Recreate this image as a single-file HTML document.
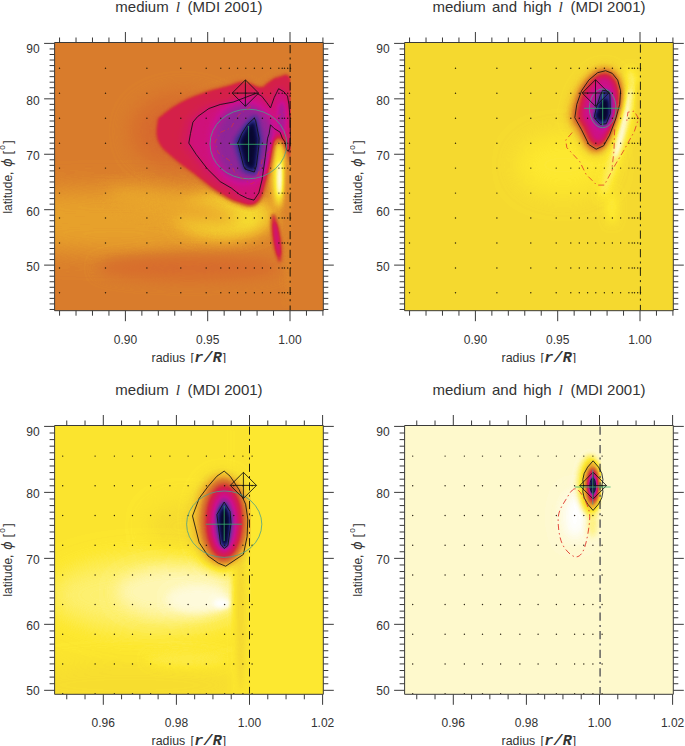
<!DOCTYPE html>
<html><head><meta charset="utf-8"><title>fig</title>
<style>
html,body{margin:0;padding:0;background:#fff}
body{width:685px;height:746px;position:relative;overflow:hidden;font-family:"Liberation Sans",sans-serif}
.p{position:absolute;width:335px;height:362.6px;overflow:hidden}
.p svg{position:absolute;left:0;top:0;display:block}
text{font-family:"Liberation Sans",sans-serif;fill:#333}
.tl{font-size:12px}
.al{font-size:12px}
.tt{font-size:15px}
.it{font-family:"Liberation Serif",serif;font-style:italic;font-size:15.5px}
.mo{font-family:"Liberation Mono",monospace;font-weight:bold;font-style:italic;font-size:15px;letter-spacing:.3px}
.ph{font-style:italic;font-size:15px}
.dg{font-size:8.2px}
</style></head><body>
<svg width="0" height="0" style="position:absolute"><defs><filter id="cm" x="0" y="0" width="100%" height="100%" color-interpolation-filters="sRGB"><feComponentTransfer><feFuncR type="table" tableValues="1.0000 0.9993 0.9987 0.9980 0.9974 0.9967 0.9961 0.9961 0.9961 0.9961 0.9961 0.9961 0.9961 0.9953 0.9945 0.9937 0.9929 0.9922 0.9830 0.9739 0.9647 0.9591 0.9535 0.9479 0.9423 0.9367 0.9311 0.9255 0.9154 0.9053 0.8952 0.8852 0.8751 0.8650 0.8549 0.8523 0.8497 0.8471 0.8444 0.8418 0.8392 0.8384 0.8376 0.8369 0.8361 0.8353 0.8353 0.8353 0.8353 0.8333 0.8314 0.8294 0.8275 0.8245 0.8216 0.8186 0.8157 0.8118 0.8078 0.8039 0.8000 0.7735 0.7471 0.7206 0.6941 0.6676 0.6412 0.6147 0.5882 0.5588 0.5294 0.5000 0.4706 0.4412 0.4118 0.3824 0.3529 0.3294 0.3059 0.2824 0.2588 0.2353 0.2118 0.1882 0.1647 0.1520 0.1392 0.1265 0.1137 0.1010 0.0882 0.0755 0.0627 0.0574 0.0520 0.0466 0.0412 0.0358 0.0304 0.0250 0.0196"/><feFuncG type="table" tableValues="1.0000 0.9961 0.9922 0.9882 0.9843 0.9804 0.9765 0.9712 0.9660 0.9608 0.9556 0.9503 0.9451 0.9380 0.9310 0.9239 0.9169 0.9098 0.8915 0.8732 0.8549 0.8291 0.8034 0.7776 0.7518 0.7261 0.7003 0.6745 0.6482 0.6218 0.5955 0.5692 0.5429 0.5165 0.4902 0.4712 0.4523 0.4333 0.4144 0.3954 0.3765 0.3467 0.3169 0.2871 0.2573 0.2275 0.1961 0.1647 0.1333 0.1255 0.1176 0.1098 0.1020 0.0941 0.0863 0.0784 0.0706 0.0686 0.0667 0.0647 0.0627 0.0725 0.0824 0.0922 0.1020 0.1118 0.1216 0.1314 0.1412 0.1461 0.1510 0.1559 0.1608 0.1657 0.1706 0.1755 0.1804 0.1784 0.1765 0.1745 0.1725 0.1706 0.1686 0.1667 0.1647 0.1520 0.1392 0.1265 0.1137 0.1010 0.0882 0.0755 0.0627 0.0574 0.0520 0.0466 0.0412 0.0358 0.0304 0.0250 0.0196"/><feFuncB type="table" tableValues="1.0000 0.9667 0.9333 0.9000 0.8667 0.8333 0.8000 0.7451 0.6902 0.6353 0.5804 0.5255 0.4706 0.4125 0.3545 0.2965 0.2384 0.1804 0.1830 0.1856 0.1882 0.1860 0.1838 0.1815 0.1793 0.1770 0.1748 0.1725 0.1725 0.1725 0.1725 0.1725 0.1725 0.1725 0.1725 0.1739 0.1752 0.1765 0.1778 0.1791 0.1804 0.1882 0.1961 0.2039 0.2118 0.2196 0.2379 0.2562 0.2745 0.2961 0.3176 0.3392 0.3608 0.3882 0.4157 0.4431 0.4706 0.4951 0.5196 0.5441 0.5686 0.5721 0.5755 0.5789 0.5824 0.5858 0.5892 0.5926 0.5961 0.5961 0.5961 0.5961 0.5961 0.5961 0.5961 0.5961 0.5961 0.5863 0.5765 0.5667 0.5569 0.5471 0.5373 0.5275 0.5176 0.4922 0.4667 0.4412 0.4157 0.3902 0.3647 0.3392 0.3137 0.2931 0.2725 0.2520 0.2314 0.2108 0.1902 0.1696 0.1490"/></feComponentTransfer></filter><filter id="b2" x="-100%" y="-100%" width="300%" height="300%" color-interpolation-filters="sRGB"><feGaussianBlur stdDeviation="1.0"/></filter><filter id="b3" x="-100%" y="-100%" width="300%" height="300%" color-interpolation-filters="sRGB"><feGaussianBlur stdDeviation="1.5"/></filter><filter id="b4" x="-100%" y="-100%" width="300%" height="300%" color-interpolation-filters="sRGB"><feGaussianBlur stdDeviation="2.0"/></filter><filter id="b5" x="-100%" y="-100%" width="300%" height="300%" color-interpolation-filters="sRGB"><feGaussianBlur stdDeviation="2.5"/></filter><filter id="b6" x="-100%" y="-100%" width="300%" height="300%" color-interpolation-filters="sRGB"><feGaussianBlur stdDeviation="3.0"/></filter><filter id="b7" x="-100%" y="-100%" width="300%" height="300%" color-interpolation-filters="sRGB"><feGaussianBlur stdDeviation="3.5"/></filter><filter id="b8" x="-100%" y="-100%" width="300%" height="300%" color-interpolation-filters="sRGB"><feGaussianBlur stdDeviation="4.0"/></filter><filter id="b10" x="-100%" y="-100%" width="300%" height="300%" color-interpolation-filters="sRGB"><feGaussianBlur stdDeviation="5.0"/></filter><filter id="b12" x="-100%" y="-100%" width="300%" height="300%" color-interpolation-filters="sRGB"><feGaussianBlur stdDeviation="6.0"/></filter><filter id="b14" x="-100%" y="-100%" width="300%" height="300%" color-interpolation-filters="sRGB"><feGaussianBlur stdDeviation="7.0"/></filter><filter id="b16" x="-100%" y="-100%" width="300%" height="300%" color-interpolation-filters="sRGB"><feGaussianBlur stdDeviation="8.0"/></filter><filter id="b18" x="-100%" y="-100%" width="300%" height="300%" color-interpolation-filters="sRGB"><feGaussianBlur stdDeviation="9.0"/></filter><filter id="b20" x="-100%" y="-100%" width="300%" height="300%" color-interpolation-filters="sRGB"><feGaussianBlur stdDeviation="10.0"/></filter><filter id="b22" x="-100%" y="-100%" width="300%" height="300%" color-interpolation-filters="sRGB"><feGaussianBlur stdDeviation="11.0"/></filter><filter id="b24" x="-100%" y="-100%" width="300%" height="300%" color-interpolation-filters="sRGB"><feGaussianBlur stdDeviation="12.0"/></filter><filter id="b26" x="-100%" y="-100%" width="300%" height="300%" color-interpolation-filters="sRGB"><feGaussianBlur stdDeviation="13.0"/></filter><clipPath id="cp"><rect x="54.6" y="42.5" width="268.7" height="268.2"/></clipPath><clipPath id="cpb"><rect x="54.6" y="42.5" width="268.7" height="268.8"/></clipPath></defs></svg>
<div class="p" style="left:0px;top:0px"><svg width="335" height="363" viewBox="0 0 335 363">
<g clip-path="url(#cp)"><g filter="url(#cm)">
<rect x="52.6" y="40.5" width="272.7" height="274.2" fill="rgb(87,87,87)"/>
<ellipse cx="183.1" cy="131.7" rx="51.2" ry="37.4" fill="rgb(97,97,97)" filter="url(#b20)"/>
<ellipse cx="114.1" cy="220.4" rx="165.5" ry="31.5" fill="rgb(73,73,73)" filter="url(#b24)"/>
<ellipse cx="224.5" cy="215.6" rx="49.3" ry="22.9" fill="rgb(56,56,56)" filter="url(#b14)"/>
<ellipse cx="228.4" cy="219.2" rx="29.6" ry="10.2" fill="rgb(50,50,50)" filter="url(#b8)"/>
<ellipse cx="173.2" cy="206.6" rx="67.0" ry="11.8" fill="rgb(71,71,71)" filter="url(#b16)" transform="rotate(12 173.2 206.6)"/>
<ellipse cx="189.0" cy="267.7" rx="90.7" ry="11.8" fill="rgb(96,96,96)" filter="url(#b14)"/>
<path d="M157.5 121.8C156.7 127.1 155.1 134.3 158.3 141.5C161.4 148.8 165.5 151.2 173.2 158.1C181.0 165.0 187.4 169.1 196.9 176.2C206.4 183.3 212.7 188.5 220.5 193.6C228.4 198.6 229.2 199.5 236.3 201.5C243.4 203.4 250.0 207.5 256.0 203.4C262.0 199.3 263.3 191.4 266.3 181.0C269.3 170.6 269.1 159.9 271.0 151.4C272.9 142.9 273.2 139.4 275.7 138.4C278.3 137.4 280.6 141.7 283.6 146.3C286.6 150.8 289.1 166.1 290.7 161.2C292.3 156.4 291.5 138.2 291.5 121.8C291.5 105.4 293.5 88.3 290.7 79.3C288.0 70.3 282.3 76.3 277.7 76.9C273.1 77.5 271.4 80.4 267.8 82.4C264.3 84.5 264.7 87.3 260.0 87.1C255.2 87.0 250.5 81.9 244.2 81.6C237.9 81.3 236.3 83.4 228.4 85.6C220.5 87.7 214.2 89.0 204.8 92.3C195.3 95.6 189.6 97.6 181.1 102.1C172.6 106.7 166.9 111.2 162.2 115.1C157.5 119.1 158.3 116.6 157.5 121.8Z" fill="rgb(102,102,102)" filter="url(#b6)"/>
<path d="M157.5 121.8C156.7 127.1 155.1 134.3 158.3 141.5C161.4 148.8 165.5 151.2 173.2 158.1C181.0 165.0 187.4 169.1 196.9 176.2C206.4 183.3 212.7 188.5 220.5 193.6C228.4 198.6 229.2 199.5 236.3 201.5C243.4 203.4 250.0 207.5 256.0 203.4C262.0 199.3 263.3 191.4 266.3 181.0C269.3 170.6 269.1 159.9 271.0 151.4C272.9 142.9 273.2 139.4 275.7 138.4C278.3 137.4 280.6 141.7 283.6 146.3C286.6 150.8 289.1 166.1 290.7 161.2C292.3 156.4 291.5 138.2 291.5 121.8C291.5 105.4 293.5 88.3 290.7 79.3C288.0 70.3 282.3 76.3 277.7 76.9C273.1 77.5 271.4 80.4 267.8 82.4C264.3 84.5 264.7 87.3 260.0 87.1C255.2 87.0 250.5 81.9 244.2 81.6C237.9 81.3 236.3 83.4 228.4 85.6C220.5 87.7 214.2 89.0 204.8 92.3C195.3 95.6 189.6 97.6 181.1 102.1C172.6 106.7 166.9 111.2 162.2 115.1C157.5 119.1 158.3 116.6 157.5 121.8Z" fill="rgb(124,124,124)" filter="url(#b3)"/>
<path d="M253.7 91.0C258.7 90.0 257.3 92.4 259.1 94.1C261.0 95.8 263.0 99.0 264.6 101.1C266.2 103.1 267.2 107.4 268.5 106.5C269.8 105.6 271.0 99.0 272.4 95.7C273.8 92.3 275.4 87.4 277.1 86.4C278.8 85.3 281.0 88.2 282.6 89.5C284.1 90.8 285.6 91.9 286.5 94.1C287.4 96.3 287.6 98.6 288.0 102.6C288.5 106.6 289.0 112.4 289.3 118.1C289.5 123.8 289.7 131.5 289.6 136.7C289.5 141.8 289.2 146.5 288.8 149.0C288.4 151.6 287.8 151.9 287.3 152.1C286.7 152.4 286.2 152.1 285.7 150.6C285.2 149.0 284.9 144.9 284.1 142.8C283.3 140.8 281.9 140.0 281.0 138.2C280.1 136.4 280.1 133.7 278.7 132.0C277.2 130.3 274.1 129.4 272.4 128.1C270.7 126.9 269.4 123.4 268.5 124.3C267.6 125.2 267.5 131.2 266.9 133.6C266.4 135.9 266.1 134.2 265.4 138.3C264.8 142.5 263.9 151.3 262.9 158.6C261.9 165.9 260.6 176.0 259.5 182.2C258.3 188.4 257.5 192.2 256.1 195.7C254.6 199.3 252.9 202.4 250.9 203.3C249.0 204.3 246.7 202.6 244.1 201.6C241.6 200.7 238.4 199.3 235.6 197.4C232.8 195.6 230.5 192.9 227.1 190.7C223.7 188.4 219.4 187.3 215.2 183.9C210.9 180.5 205.8 175.2 201.5 170.4C197.3 165.6 192.9 159.7 189.6 155.2C186.3 150.7 182.9 147.1 181.9 143.4C180.9 139.7 182.9 136.9 183.6 133.3C184.3 129.6 184.9 124.4 186.2 121.5C187.5 118.5 188.5 117.9 191.3 115.6C194.1 113.2 199.3 109.2 203.2 107.1C207.2 105.0 210.9 104.0 215.2 102.9C219.4 101.8 222.4 102.3 228.8 100.4C235.2 98.4 248.6 92.1 253.7 91.0Z" fill="rgb(135,135,135)" filter="url(#b8)"/>
<path d="M256.5 93.2L261.7 96.1L266.8 102.7L270.5 107.9L274.2 97.6L278.6 88.7L283.8 91.7L287.5 96.1L288.9 104.2L290.1 118.9L290.4 136.6L289.7 148.4L288.2 151.4L286.7 149.9L285.3 142.5L282.3 138.1L280.1 132.2L274.2 128.5L270.5 124.8L269.1 133.7L267.6 138.2L265.2 157.5L262.0 180.0L258.8 192.9L254.0 200.1L247.5 198.5L239.5 194.5L231.4 188.1L220.2 181.6L207.3 168.8L196.1 154.3L188.8 143.1L190.5 133.4L192.9 122.2L197.7 116.5L208.9 108.5L220.2 104.5L233.1 102.1Z" fill="rgb(144,144,144)" filter="url(#b5)"/>
<ellipse cx="244.2" cy="142.3" rx="31.5" ry="39.4" fill="rgb(176,176,176)" filter="url(#b10)"/>
<ellipse cx="281.6" cy="117.9" rx="3.9" ry="15.8" fill="rgb(168,168,168)" filter="url(#b4)"/>
<path d="M255.2 115.4C256.9 114.7 255.9 114.4 256.9 118.1C257.9 121.8 260.6 132.8 261.3 137.5C261.9 142.3 261.4 141.4 260.9 146.4C260.3 151.4 258.8 162.9 257.9 167.6C256.9 172.3 257.6 174.0 255.2 174.7C252.9 175.3 246.0 172.7 243.8 171.5C241.5 170.3 243.3 172.4 241.8 167.6C240.3 162.8 235.1 148.7 234.8 142.8C234.4 137.0 237.8 135.6 239.8 132.2C241.8 128.8 244.2 125.3 246.8 122.5C249.4 119.7 253.6 116.2 255.2 115.4Z" fill="rgb(209,209,209)" filter="url(#b5)"/>
<path d="M253.5 121.4C254.6 120.8 253.9 120.5 254.5 123.5C255.2 126.4 256.9 135.3 257.4 139.1C257.8 142.8 257.5 142.1 257.1 146.1C256.7 150.1 255.8 159.3 255.2 163.1C254.6 166.9 255.0 168.3 253.5 168.8C252.0 169.3 247.6 167.2 246.2 166.2C244.7 165.3 245.8 166.9 244.9 163.1C243.9 159.3 240.6 148.0 240.4 143.3C240.2 138.6 242.3 137.5 243.6 134.8C244.9 132.1 246.4 129.3 248.1 127.0C249.7 124.8 252.4 122.0 253.5 121.4Z" fill="rgb(250,250,250)" filter="url(#b4)"/>
<ellipse cx="278.9" cy="173.1" rx="7.1" ry="34.7" fill="rgb(43,43,43)" filter="url(#b7)"/>
<ellipse cx="279.7" cy="179.0" rx="2.2" ry="17.3" fill="rgb(0,0,0)" filter="url(#b4)"/>
<ellipse cx="288.0" cy="228.3" rx="3.5" ry="74.9" fill="rgb(84,84,84)" filter="url(#b5)"/>
<ellipse cx="276.5" cy="238.1" rx="4.3" ry="24.4" fill="rgb(120,120,120)" filter="url(#b3)" transform="rotate(-8 276.5 238.1)"/>
<ellipse cx="276.9" cy="239.3" rx="2.0" ry="16.6" fill="rgb(143,143,143)" filter="url(#b3)" transform="rotate(-8 276.9 239.3)"/>
<rect x="290.7" y="40.5" width="35.6" height="274.2" fill="rgb(87,87,87)"/>
</g>
<path d="M59.5 68.3h0M59.5 93.3h0M59.5 118.2h0M59.5 143.2h0M59.5 168.1h0M59.5 193.1h0M59.5 218.0h0M59.5 242.9h0M59.5 267.9h0M59.5 292.8h0M105.5 68.3h0M105.5 93.3h0M105.5 118.2h0M105.5 143.2h0M105.5 168.1h0M105.5 193.1h0M105.5 218.0h0M105.5 242.9h0M105.5 267.9h0M105.5 292.8h0M146.9 68.3h0M146.9 93.3h0M146.9 118.2h0M146.9 143.2h0M146.9 168.1h0M146.9 193.1h0M146.9 218.0h0M146.9 242.9h0M146.9 267.9h0M146.9 292.8h0M180.8 68.3h0M180.8 93.3h0M180.8 118.2h0M180.8 143.2h0M180.8 168.1h0M180.8 193.1h0M180.8 218.0h0M180.8 242.9h0M180.8 267.9h0M180.8 292.8h0M206.2 68.3h0M206.2 93.3h0M206.2 118.2h0M206.2 143.2h0M206.2 168.1h0M206.2 193.1h0M206.2 218.0h0M206.2 242.9h0M206.2 267.9h0M206.2 292.8h0M220.8 68.3h0M220.8 93.3h0M220.8 118.2h0M220.8 143.2h0M220.8 168.1h0M220.8 193.1h0M220.8 218.0h0M220.8 242.9h0M220.8 267.9h0M220.8 292.8h0M229.3 68.3h0M229.3 93.3h0M229.3 118.2h0M229.3 143.2h0M229.3 168.1h0M229.3 193.1h0M229.3 218.0h0M229.3 242.9h0M229.3 267.9h0M229.3 292.8h0M237.6 68.3h0M237.6 93.3h0M237.6 118.2h0M237.6 143.2h0M237.6 168.1h0M237.6 193.1h0M237.6 218.0h0M237.6 242.9h0M237.6 267.9h0M237.6 292.8h0M245.8 68.3h0M245.8 93.3h0M245.8 118.2h0M245.8 143.2h0M245.8 168.1h0M245.8 193.1h0M245.8 218.0h0M245.8 242.9h0M245.8 267.9h0M245.8 292.8h0M254.4 68.3h0M254.4 93.3h0M254.4 118.2h0M254.4 143.2h0M254.4 168.1h0M254.4 193.1h0M254.4 218.0h0M254.4 242.9h0M254.4 267.9h0M254.4 292.8h0M262.4 68.3h0M262.4 93.3h0M262.4 118.2h0M262.4 143.2h0M262.4 168.1h0M262.4 193.1h0M262.4 218.0h0M262.4 242.9h0M262.4 267.9h0M262.4 292.8h0M270.6 68.3h0M270.6 93.3h0M270.6 118.2h0M270.6 143.2h0M270.6 168.1h0M270.6 193.1h0M270.6 218.0h0M270.6 242.9h0M270.6 267.9h0M270.6 292.8h0M278.9 68.3h0M278.9 93.3h0M278.9 118.2h0M278.9 143.2h0M278.9 168.1h0M278.9 193.1h0M278.9 218.0h0M278.9 242.9h0M278.9 267.9h0M278.9 292.8h0M282.2 68.3h0M282.2 93.3h0M282.2 118.2h0M282.2 143.2h0M282.2 168.1h0M282.2 193.1h0M282.2 218.0h0M282.2 242.9h0M282.2 267.9h0M282.2 292.8h0M284.5 68.3h0M284.5 93.3h0M284.5 118.2h0M284.5 143.2h0M284.5 168.1h0M284.5 193.1h0M284.5 218.0h0M284.5 242.9h0M284.5 267.9h0M284.5 292.8h0M287.7 68.3h0M287.7 93.3h0M287.7 118.2h0M287.7 143.2h0M287.7 168.1h0M287.7 193.1h0M287.7 218.0h0M287.7 242.9h0M287.7 267.9h0M287.7 292.8h0M290.5 68.3h0M290.5 93.3h0M290.5 118.2h0M290.5 143.2h0M290.5 168.1h0M290.5 193.1h0M290.5 218.0h0M290.5 242.9h0M290.5 267.9h0M290.5 292.8h0" stroke="#1a1205" stroke-opacity=".9" stroke-width="1.45" stroke-linecap="round" fill="none"/>
<path d="M290.2 42.5V310.7" stroke="rgba(40,25,10,.72)" stroke-width="1.5" stroke-dasharray="8.2 4.2 2 4.2" stroke-dashoffset="-2.6" fill="none"/>
<path d="M256.5 93.2L261.7 96.1L266.8 102.7L270.5 107.9L274.2 97.6L278.6 88.7L283.8 91.7L287.5 96.1L288.9 104.2L290.1 118.9L290.4 136.6L289.7 148.4L288.2 151.4L286.7 149.9L285.3 142.5L282.3 138.1L280.1 132.2L274.2 128.5L270.5 124.8L269.1 133.7L267.6 138.2L265.2 157.5L262.0 180.0L258.8 192.9L254.0 200.1L247.5 198.5L239.5 194.5L231.4 188.1L220.2 181.6L207.3 168.8L196.1 154.3L188.8 143.1L190.5 133.4L192.9 122.2L197.7 116.5L208.9 108.5L220.2 104.5L233.1 102.1Z" fill="none" stroke="#111" stroke-width=".85"/>
<path d="M254.3 118.1L255.6 120.5L259.1 138.2L258.8 146.3L256.4 165.6L254.3 172.0L245.1 169.1L243.5 165.6L237.9 143.1L241.9 133.4L247.5 124.6Z" fill="none" stroke="#111" stroke-width=".85"/>
<ellipse cx="248.4" cy="144.0" rx="38.4" ry="34.8" fill="none" stroke="#4aa08a" stroke-width=".8"/>
<path d="M230 144.3H266.8M248.6 126V161.8" stroke="#35b070" stroke-width=".8" fill="none"/>
<path d="M251.0 106.6L240.5 113.1L235.2 119.7L231.3 127.6L220.8 132.2L214.9 142.0L218.1 152.6L229.3 160.4L235.2 173.6L251.0 184.1L255.6 181.5L260.2 168.3L262.8 157.8L272.0 148.6L278.6 140.7" fill="none" stroke="#e0352b" stroke-opacity=".75" stroke-width=".8" stroke-dasharray="5 3 1.2 3"/>
<path d="M276.6 117.1L283.8 112.5L287.5 117.1" fill="none" stroke="#e0352b" stroke-opacity=".6" stroke-width=".8" stroke-dasharray="5 3 1.2 3"/>
<path d="M232.2 93.1L245.4 79.9L258.6 93.1L245.4 106.3ZM232.2 93.1H258.6M245.4 79.9V106.3" fill="none" stroke="#111" stroke-width=".85"/>
</g>
<path d="M54.6 42.5H323.3V310.7H54.6Z" fill="none" stroke="#3a3a3a" stroke-width="1"/>
<path d="M59.56 42.5v-5M59.56 310.7v5M76.02 42.5v-5M76.02 310.7v5M92.48 42.5v-5M92.48 310.7v5M108.94 42.5v-5M108.94 310.7v5M125.40 42.5v-10.5M125.40 310.7v10.5M141.86 42.5v-5M141.86 310.7v5M158.32 42.5v-5M158.32 310.7v5M174.78 42.5v-5M174.78 310.7v5M191.24 42.5v-5M191.24 310.7v5M207.70 42.5v-10.5M207.70 310.7v10.5M224.16 42.5v-5M224.16 310.7v5M240.62 42.5v-5M240.62 310.7v5M257.08 42.5v-5M257.08 310.7v5M273.54 42.5v-5M273.54 310.7v5M290.00 42.5v-10.5M290.00 310.7v10.5M306.46 42.5v-5M306.46 310.7v5M322.92 42.5v-5M322.92 310.7v5M54.6 309.46h-5M323.3 309.46h5M54.6 303.92h-5M323.3 303.92h5M54.6 298.38h-5M323.3 298.38h5M54.6 292.83h-5M323.3 292.83h5M54.6 287.29h-5M323.3 287.29h5M54.6 281.75h-5M323.3 281.75h5M54.6 276.21h-5M323.3 276.21h5M54.6 270.66h-5M323.3 270.66h5M54.6 265.12h-10.5M323.3 265.12h10.5M54.6 259.58h-5M323.3 259.58h5M54.6 254.03h-5M323.3 254.03h5M54.6 248.49h-5M323.3 248.49h5M54.6 242.95h-5M323.3 242.95h5M54.6 237.41h-5M323.3 237.41h5M54.6 231.86h-5M323.3 231.86h5M54.6 226.32h-5M323.3 226.32h5M54.6 220.78h-5M323.3 220.78h5M54.6 215.23h-5M323.3 215.23h5M54.6 209.69h-10.5M323.3 209.69h10.5M54.6 204.15h-5M323.3 204.15h5M54.6 198.60h-5M323.3 198.60h5M54.6 193.06h-5M323.3 193.06h5M54.6 187.52h-5M323.3 187.52h5M54.6 181.98h-5M323.3 181.98h5M54.6 176.43h-5M323.3 176.43h5M54.6 170.89h-5M323.3 170.89h5M54.6 165.35h-5M323.3 165.35h5M54.6 159.80h-5M323.3 159.80h5M54.6 154.26h-10.5M323.3 154.26h10.5M54.6 148.72h-5M323.3 148.72h5M54.6 143.17h-5M323.3 143.17h5M54.6 137.63h-5M323.3 137.63h5M54.6 132.09h-5M323.3 132.09h5M54.6 126.54h-5M323.3 126.54h5M54.6 121.00h-5M323.3 121.00h5M54.6 115.46h-5M323.3 115.46h5M54.6 109.92h-5M323.3 109.92h5M54.6 104.37h-5M323.3 104.37h5M54.6 98.83h-10.5M323.3 98.83h10.5M54.6 93.29h-5M323.3 93.29h5M54.6 87.74h-5M323.3 87.74h5M54.6 82.20h-5M323.3 82.20h5M54.6 76.66h-5M323.3 76.66h5M54.6 71.11h-5M323.3 71.11h5M54.6 65.57h-5M323.3 65.57h5M54.6 60.03h-5M323.3 60.03h5M54.6 54.49h-5M323.3 54.49h5M54.6 48.94h-5M323.3 48.94h5M54.6 43.40h-10.5M323.3 43.40h10.5" fill="none" stroke="#3a3a3a" stroke-width="1"/>
<text x="125.4" y="343.9" text-anchor="middle" class="tl">0.90</text>
<text x="207.7" y="343.9" text-anchor="middle" class="tl">0.95</text>
<text x="290.0" y="343.9" text-anchor="middle" class="tl">1.00</text>
<text x="39.6" y="270.9" text-anchor="end" class="tl">50</text>
<text x="39.6" y="215.5" text-anchor="end" class="tl">60</text>
<text x="39.6" y="160.1" text-anchor="end" class="tl">70</text>
<text x="39.6" y="104.6" text-anchor="end" class="tl">80</text>
<text x="39.6" y="52.6" text-anchor="end" class="tl">90</text>
<text x="189.0" y="12.2" text-anchor="middle" class="tt">medium <tspan class="it" dx="2.8">l</tspan><tspan dx="3.4"> (MDI</tspan><tspan> 2001)</tspan></text>
<text y="361.9" class="al"><tspan x="151.5" style="font-size:12.4px">radius</tspan><tspan x="190.4">[</tspan><tspan x="194.2" class="mo">r/R</tspan><tspan x="222.8">]</tspan></text>
<text transform="translate(12 213.6) rotate(-90)" class="al"><tspan class="yl">latitude,</tspan><tspan class="ph" dx="4.8">&#981;</tspan><tspan dx="4.2">[</tspan><tspan class="dg" dx="1.2" dy="-6.6">o</tspan><tspan dx="1.3" dy="6.6">]</tspan></text>
</svg></div>
<div class="p" style="left:350px;top:0px"><svg width="335" height="363" viewBox="0 0 335 363">
<g clip-path="url(#cp)"><g filter="url(#cm)">
<rect x="52.6" y="40.5" width="272.7" height="274.2" fill="rgb(51,51,51)"/>
<ellipse cx="213.0" cy="165.0" rx="46.0" ry="30.0" fill="rgb(43,43,43)" filter="url(#b22)"/>
<path d="M278.3 70.0C277.4 72.3 278.2 79.0 277.6 84.0C277.0 89.0 276.1 94.3 274.9 100.0C273.8 105.7 272.1 112.2 270.7 118.0C269.2 123.8 267.5 129.7 266.2 135.0C264.9 140.3 264.0 144.8 262.7 150.0C261.4 155.2 259.8 160.7 258.4 166.0C257.0 171.3 255.4 177.0 254.2 182.0C252.9 187.0 250.9 193.7 250.9 196.0C250.9 198.3 252.6 198.3 254.1 196.0C255.6 193.7 257.9 187.0 259.8 182.0C261.7 177.0 263.7 171.3 265.6 166.0C267.5 160.7 269.6 155.2 271.3 150.0C273.0 144.8 274.3 140.3 275.8 135.0C277.3 129.7 279.0 123.8 280.3 118.0C281.6 112.2 282.9 105.7 283.7 100.0C284.4 94.3 285.0 89.0 284.8 84.0C284.6 79.0 283.8 72.3 282.7 70.0C281.6 67.7 279.2 67.7 278.3 70.0Z" fill="rgb(26,26,26)" filter="url(#b8)"/>
<path d="M277.8 92.0C276.9 95.0 275.8 104.0 274.6 110.0C273.4 116.0 271.9 122.3 270.7 128.0C269.5 133.7 268.2 139.3 267.2 144.0C266.2 148.7 264.6 154.0 264.5 156.0C264.4 158.0 265.5 158.0 266.5 156.0C267.5 154.0 269.1 148.7 270.4 144.0C271.7 139.3 273.0 133.7 274.3 128.0C275.6 122.3 277.1 116.0 278.0 110.0C278.9 104.0 279.8 95.0 279.8 92.0C279.8 89.0 278.7 89.0 277.8 92.0Z" fill="rgb(0,0,0)" filter="url(#b4)"/>
<ellipse cx="288.5" cy="104.3" rx="1.9" ry="22.8" fill="rgb(60,60,60)" filter="url(#b5)"/>
<ellipse cx="262.0" cy="208.0" rx="5.0" ry="16.0" fill="rgb(40,40,40)" filter="url(#b8)"/>
<path d="M217.8 119.2C216.9 114.4 218.9 109.0 220.3 103.9C221.6 98.8 223.6 93.2 226.0 88.6C228.5 84.0 231.7 79.8 235.0 76.4C238.3 72.9 242.2 69.8 245.6 68.0C249.1 66.2 252.5 65.6 255.5 65.7C258.5 65.8 261.2 67.0 263.6 68.7C266.1 70.5 268.5 73.1 270.2 76.4C271.9 79.7 273.4 84.0 273.8 88.6C274.2 93.2 273.7 98.6 272.6 103.9C271.6 109.3 269.8 114.9 267.7 120.7C265.7 126.6 262.8 134.0 260.4 139.1C257.9 144.2 255.7 148.6 253.0 151.3C250.3 154.0 247.0 155.4 244.0 155.1C241.0 154.9 238.0 153.5 235.0 149.8C232.0 146.1 228.9 138.1 226.0 133.0C223.1 127.9 218.8 124.0 217.8 119.2Z" fill="rgb(69,69,69)" filter="url(#b10)"/>
<path d="M222.8 118.1C221.9 113.7 223.7 108.8 224.9 104.2C226.1 99.5 227.7 94.4 229.9 90.2C232.0 86.0 234.9 82.2 237.7 79.1C240.5 75.9 244.0 73.0 246.9 71.4C249.9 69.8 252.9 69.2 255.5 69.3C258.1 69.4 260.4 70.5 262.6 72.1C264.7 73.7 266.8 76.0 268.3 79.1C269.7 82.1 271.0 86.0 271.4 90.2C271.8 94.4 271.3 99.3 270.4 104.2C269.5 109.0 267.9 114.2 266.1 119.5C264.4 124.8 261.9 131.6 259.7 136.2C257.6 140.9 255.7 145.0 253.3 147.4C251.0 149.8 248.1 151.1 245.5 150.9C242.9 150.7 240.3 149.4 237.7 146.0C235.1 142.6 232.4 135.3 229.9 130.7C227.4 126.0 223.6 122.5 222.8 118.1Z" fill="rgb(97,97,97)" filter="url(#b6)"/>
<path d="M226.5 117.1C225.8 113.1 227.3 108.6 228.4 104.4C229.4 100.1 230.8 95.5 232.7 91.6C234.6 87.8 237.1 84.3 239.6 81.5C242.1 78.6 245.1 75.9 247.7 74.4C250.3 73.0 252.9 72.4 255.2 72.5C257.5 72.6 259.5 73.6 261.4 75.1C263.3 76.6 265.1 78.7 266.4 81.5C267.7 84.2 268.8 87.8 269.1 91.6C269.4 95.5 269.0 99.9 268.3 104.4C267.5 108.8 266.1 113.5 264.5 118.4C263.0 123.3 260.8 129.4 258.9 133.7C257.0 137.9 255.4 141.7 253.3 143.9C251.2 146.1 248.7 147.3 246.4 147.1C244.1 146.9 241.9 145.7 239.6 142.6C237.3 139.5 234.9 132.8 232.7 128.6C230.5 124.3 227.2 121.2 226.5 117.1Z" fill="rgb(122,122,122)" filter="url(#b5)"/>
<path d="M232.0 115.7C231.4 112.2 232.6 108.4 233.5 104.7C234.3 101.0 235.4 97.0 236.9 93.7C238.4 90.4 240.4 87.4 242.4 84.9C244.4 82.4 246.8 80.2 248.8 78.9C250.9 77.6 253.0 77.1 254.8 77.2C256.6 77.3 258.3 78.1 259.8 79.4C261.2 80.7 262.7 82.5 263.7 84.9C264.8 87.3 265.7 90.4 265.9 93.7C266.2 97.0 265.8 100.9 265.2 104.7C264.6 108.6 263.5 112.6 262.2 116.8C261.0 121.0 259.3 126.3 257.8 130.0C256.3 133.7 255.0 136.9 253.3 138.8C251.6 140.7 249.7 141.7 247.8 141.6C246.0 141.4 244.2 140.4 242.4 137.7C240.6 135.0 238.7 129.3 236.9 125.6C235.2 121.9 232.5 119.2 232.0 115.7Z" fill="rgb(149,149,149)" filter="url(#b5)"/>
<ellipse cx="252.7" cy="109.0" rx="10.5" ry="20.1" fill="rgb(178,178,178)" filter="url(#b5)" transform="rotate(4 252.7 109.0)"/>
<path d="M252.9 90.2C254.4 89.5 258.0 90.7 259.2 91.5C260.5 92.3 260.0 91.2 260.2 94.9C260.5 98.6 261.3 108.8 260.6 113.6C260.0 118.5 258.2 121.9 256.4 123.7C254.7 125.5 252.2 125.4 250.1 124.4C248.0 123.4 244.5 120.4 243.7 117.7C243.0 115.0 244.8 112.0 245.9 108.3C246.9 104.6 248.9 98.6 250.1 95.5C251.3 92.5 251.4 90.8 252.9 90.2Z" fill="rgb(214,214,214)" filter="url(#b3)"/>
<path d="M253.0 99.4C254.1 99.0 256.5 99.8 257.4 100.3C258.2 100.8 257.9 100.1 258.0 102.3C258.2 104.6 258.8 111.0 258.3 114.0C257.9 117.0 256.6 119.1 255.4 120.2C254.2 121.3 252.5 121.3 251.1 120.6C249.6 120.0 247.2 118.1 246.7 116.5C246.3 114.8 247.5 112.9 248.2 110.7C248.9 108.4 250.3 104.6 251.1 102.8C251.9 100.9 252.0 99.9 253.0 99.4Z" fill="rgb(250,250,250)" filter="url(#b3)"/>
<rect x="290.7" y="40.5" width="35.6" height="274.2" fill="rgb(51,51,51)"/>
</g>
<path d="M59.5 68.3h0M59.5 93.3h0M59.5 118.2h0M59.5 143.2h0M59.5 168.1h0M59.5 193.1h0M59.5 218.0h0M59.5 242.9h0M59.5 267.9h0M59.5 292.8h0M105.5 68.3h0M105.5 93.3h0M105.5 118.2h0M105.5 143.2h0M105.5 168.1h0M105.5 193.1h0M105.5 218.0h0M105.5 242.9h0M105.5 267.9h0M105.5 292.8h0M146.9 68.3h0M146.9 93.3h0M146.9 118.2h0M146.9 143.2h0M146.9 168.1h0M146.9 193.1h0M146.9 218.0h0M146.9 242.9h0M146.9 267.9h0M146.9 292.8h0M180.8 68.3h0M180.8 93.3h0M180.8 118.2h0M180.8 143.2h0M180.8 168.1h0M180.8 193.1h0M180.8 218.0h0M180.8 242.9h0M180.8 267.9h0M180.8 292.8h0M206.2 68.3h0M206.2 93.3h0M206.2 118.2h0M206.2 143.2h0M206.2 168.1h0M206.2 193.1h0M206.2 218.0h0M206.2 242.9h0M206.2 267.9h0M206.2 292.8h0M220.8 68.3h0M220.8 93.3h0M220.8 118.2h0M220.8 143.2h0M220.8 168.1h0M220.8 193.1h0M220.8 218.0h0M220.8 242.9h0M220.8 267.9h0M220.8 292.8h0M229.3 68.3h0M229.3 93.3h0M229.3 118.2h0M229.3 143.2h0M229.3 168.1h0M229.3 193.1h0M229.3 218.0h0M229.3 242.9h0M229.3 267.9h0M229.3 292.8h0M237.6 68.3h0M237.6 93.3h0M237.6 118.2h0M237.6 143.2h0M237.6 168.1h0M237.6 193.1h0M237.6 218.0h0M237.6 242.9h0M237.6 267.9h0M237.6 292.8h0M245.8 68.3h0M245.8 93.3h0M245.8 118.2h0M245.8 143.2h0M245.8 168.1h0M245.8 193.1h0M245.8 218.0h0M245.8 242.9h0M245.8 267.9h0M245.8 292.8h0M254.4 68.3h0M254.4 93.3h0M254.4 118.2h0M254.4 143.2h0M254.4 168.1h0M254.4 193.1h0M254.4 218.0h0M254.4 242.9h0M254.4 267.9h0M254.4 292.8h0M262.4 68.3h0M262.4 93.3h0M262.4 118.2h0M262.4 143.2h0M262.4 168.1h0M262.4 193.1h0M262.4 218.0h0M262.4 242.9h0M262.4 267.9h0M262.4 292.8h0M270.6 68.3h0M270.6 93.3h0M270.6 118.2h0M270.6 143.2h0M270.6 168.1h0M270.6 193.1h0M270.6 218.0h0M270.6 242.9h0M270.6 267.9h0M270.6 292.8h0M278.9 68.3h0M278.9 93.3h0M278.9 118.2h0M278.9 143.2h0M278.9 168.1h0M278.9 193.1h0M278.9 218.0h0M278.9 242.9h0M278.9 267.9h0M278.9 292.8h0M282.2 68.3h0M282.2 93.3h0M282.2 118.2h0M282.2 143.2h0M282.2 168.1h0M282.2 193.1h0M282.2 218.0h0M282.2 242.9h0M282.2 267.9h0M282.2 292.8h0M284.5 68.3h0M284.5 93.3h0M284.5 118.2h0M284.5 143.2h0M284.5 168.1h0M284.5 193.1h0M284.5 218.0h0M284.5 242.9h0M284.5 267.9h0M284.5 292.8h0M287.7 68.3h0M287.7 93.3h0M287.7 118.2h0M287.7 143.2h0M287.7 168.1h0M287.7 193.1h0M287.7 218.0h0M287.7 242.9h0M287.7 267.9h0M287.7 292.8h0M290.5 68.3h0M290.5 93.3h0M290.5 118.2h0M290.5 143.2h0M290.5 168.1h0M290.5 193.1h0M290.5 218.0h0M290.5 242.9h0M290.5 267.9h0M290.5 292.8h0" stroke="#1a1205" stroke-opacity=".9" stroke-width="1.45" stroke-linecap="round" fill="none"/>
<path d="M290.4 42.5V310.7" stroke="rgba(20,20,10,.92)" stroke-width="1.0" stroke-dasharray="8.2 4.2 2 4.2" stroke-dashoffset="-2.0" fill="none"/>
<path d="M224.8 117.7L226.8 104.3L231.5 90.8L238.8 80.1L247.6 72.7L255.6 70.7L262.3 73.4L267.7 80.1L270.6 90.8L269.7 104.3L265.7 119.0L259.6 135.1L253.6 145.8L246.2 149.2L238.8 144.5L231.5 129.7Z" fill="none" stroke="#111" stroke-width=".85"/>
<path d="M252.9 90.2L259.0 91.5L259.9 94.9L260.3 113.6L256.3 123.7L250.2 124.4L244.2 117.7L246.2 108.3L250.2 95.5Z" fill="none" stroke="#111" stroke-width=".85"/>
<ellipse cx="252.7" cy="108.3" rx="13.3" ry="19.4" fill="none" stroke="#4aa08a" stroke-width=".8"/>
<path d="M234.1 108.3H270.4M252.7 91.5V125.7" stroke="#35b070" stroke-width=".8" fill="none"/>
<path d="M232.2 93.0L245.5 79.7L258.8 93.0L245.5 106.3ZM232.2 93.0H258.8M245.5 79.7V106.3" fill="none" stroke="#111" stroke-width=".85"/>
<path d="M222.2 132.5L215.7 140.1L216.8 147.6L229.7 161.5L236.1 174.4L246.8 185.1L254.3 185.1L264.0 166.9L273.6 150.8L284.3 131.5L288.6 118.6L284.3 111.1L277.9 112.2L276.8 120.8" fill="none" stroke="#e0352b" stroke-width=".8" stroke-dasharray="6 3 1.5 3"/>
<path d="M264.6 129.3L264.0 150.8L261.8 170.1" fill="none" stroke="#e0352b" stroke-width=".8" stroke-dasharray="6 3 1.5 3"/>
</g>
<path d="M54.6 42.5H323.3V310.7H54.6Z" fill="none" stroke="#3a3a3a" stroke-width="1"/>
<path d="M59.56 42.5v-5M59.56 310.7v5M76.02 42.5v-5M76.02 310.7v5M92.48 42.5v-5M92.48 310.7v5M108.94 42.5v-5M108.94 310.7v5M125.40 42.5v-10.5M125.40 310.7v10.5M141.86 42.5v-5M141.86 310.7v5M158.32 42.5v-5M158.32 310.7v5M174.78 42.5v-5M174.78 310.7v5M191.24 42.5v-5M191.24 310.7v5M207.70 42.5v-10.5M207.70 310.7v10.5M224.16 42.5v-5M224.16 310.7v5M240.62 42.5v-5M240.62 310.7v5M257.08 42.5v-5M257.08 310.7v5M273.54 42.5v-5M273.54 310.7v5M290.00 42.5v-10.5M290.00 310.7v10.5M306.46 42.5v-5M306.46 310.7v5M322.92 42.5v-5M322.92 310.7v5M54.6 309.46h-5M323.3 309.46h5M54.6 303.92h-5M323.3 303.92h5M54.6 298.38h-5M323.3 298.38h5M54.6 292.83h-5M323.3 292.83h5M54.6 287.29h-5M323.3 287.29h5M54.6 281.75h-5M323.3 281.75h5M54.6 276.21h-5M323.3 276.21h5M54.6 270.66h-5M323.3 270.66h5M54.6 265.12h-10.5M323.3 265.12h10.5M54.6 259.58h-5M323.3 259.58h5M54.6 254.03h-5M323.3 254.03h5M54.6 248.49h-5M323.3 248.49h5M54.6 242.95h-5M323.3 242.95h5M54.6 237.41h-5M323.3 237.41h5M54.6 231.86h-5M323.3 231.86h5M54.6 226.32h-5M323.3 226.32h5M54.6 220.78h-5M323.3 220.78h5M54.6 215.23h-5M323.3 215.23h5M54.6 209.69h-10.5M323.3 209.69h10.5M54.6 204.15h-5M323.3 204.15h5M54.6 198.60h-5M323.3 198.60h5M54.6 193.06h-5M323.3 193.06h5M54.6 187.52h-5M323.3 187.52h5M54.6 181.98h-5M323.3 181.98h5M54.6 176.43h-5M323.3 176.43h5M54.6 170.89h-5M323.3 170.89h5M54.6 165.35h-5M323.3 165.35h5M54.6 159.80h-5M323.3 159.80h5M54.6 154.26h-10.5M323.3 154.26h10.5M54.6 148.72h-5M323.3 148.72h5M54.6 143.17h-5M323.3 143.17h5M54.6 137.63h-5M323.3 137.63h5M54.6 132.09h-5M323.3 132.09h5M54.6 126.54h-5M323.3 126.54h5M54.6 121.00h-5M323.3 121.00h5M54.6 115.46h-5M323.3 115.46h5M54.6 109.92h-5M323.3 109.92h5M54.6 104.37h-5M323.3 104.37h5M54.6 98.83h-10.5M323.3 98.83h10.5M54.6 93.29h-5M323.3 93.29h5M54.6 87.74h-5M323.3 87.74h5M54.6 82.20h-5M323.3 82.20h5M54.6 76.66h-5M323.3 76.66h5M54.6 71.11h-5M323.3 71.11h5M54.6 65.57h-5M323.3 65.57h5M54.6 60.03h-5M323.3 60.03h5M54.6 54.49h-5M323.3 54.49h5M54.6 48.94h-5M323.3 48.94h5M54.6 43.40h-10.5M323.3 43.40h10.5" fill="none" stroke="#3a3a3a" stroke-width="1"/>
<text x="125.4" y="343.9" text-anchor="middle" class="tl">0.90</text>
<text x="207.7" y="343.9" text-anchor="middle" class="tl">0.95</text>
<text x="290.0" y="343.9" text-anchor="middle" class="tl">1.00</text>
<text x="39.6" y="270.9" text-anchor="end" class="tl">50</text>
<text x="39.6" y="215.5" text-anchor="end" class="tl">60</text>
<text x="39.6" y="160.1" text-anchor="end" class="tl">70</text>
<text x="39.6" y="104.6" text-anchor="end" class="tl">80</text>
<text x="39.6" y="52.6" text-anchor="end" class="tl">90</text>
<text x="189.0" y="12.2" text-anchor="middle" class="tt"><tspan style="word-spacing:2px">medium and high </tspan><tspan class="it" dx="0.8">l</tspan><tspan dx="3.4"> (MDI</tspan><tspan> 2001)</tspan></text>
<text y="361.9" class="al"><tspan x="151.5" style="font-size:12.4px">radius</tspan><tspan x="190.4">[</tspan><tspan x="194.2" class="mo">r/R</tspan><tspan x="222.8">]</tspan></text>
<text transform="translate(12 213.6) rotate(-90)" class="al"><tspan class="yl">latitude,</tspan><tspan class="ph" dx="4.8">&#981;</tspan><tspan dx="4.2">[</tspan><tspan class="dg" dx="1.2" dy="-6.6">o</tspan><tspan dx="1.3" dy="6.6">]</tspan></text>
</svg></div>
<div class="p" style="left:0px;top:383px"><svg width="335" height="363" viewBox="0 0 335 363">
<g clip-path="url(#cpb)"><g filter="url(#cm)">
<rect x="52.6" y="40.5" width="272.7" height="274.2" fill="rgb(45,45,45)"/>
<ellipse cx="130.0" cy="302.0" rx="120.0" ry="24.0" fill="rgb(49,49,49)" filter="url(#b18)"/>
<ellipse cx="185.1" cy="143.5" rx="37.4" ry="25.6" fill="rgb(50,50,50)" filter="url(#b20)"/>
<ellipse cx="151.6" cy="212.1" rx="102.7" ry="36.8" fill="rgb(32,32,32)" filter="url(#b26)"/>
<ellipse cx="174.6" cy="209.0" rx="58.2" ry="24.5" fill="rgb(20,20,20)" filter="url(#b16)"/>
<ellipse cx="197.6" cy="216.1" rx="30.7" ry="12.9" fill="rgb(11,11,11)" filter="url(#b10)"/>
<ellipse cx="221.5" cy="220.4" rx="8.6" ry="4.6" fill="rgb(0,0,0)" filter="url(#b5)"/>
<ellipse cx="186.8" cy="276.5" rx="39.9" ry="7.7" fill="rgb(40,40,40)" filter="url(#b10)"/>
<rect x="232.2" y="42.5" width="19.3" height="268.2" fill="rgb(45,45,45)" filter="url(#b4)"/>
<ellipse cx="240.8" cy="229.0" rx="4.3" ry="79.7" fill="rgb(52,52,52)" filter="url(#b5)"/>
<ellipse cx="222.0" cy="137.5" rx="31.0" ry="48.7" fill="rgb(62,62,62)" filter="url(#b12)"/>
<ellipse cx="223.1" cy="137.5" rx="24.8" ry="43.5" fill="rgb(84,84,84)" filter="url(#b8)"/>
<ellipse cx="223.8" cy="138.2" rx="20.4" ry="39.8" fill="rgb(117,117,117)" filter="url(#b6)"/>
<ellipse cx="224.2" cy="138.9" rx="15.3" ry="33.2" fill="rgb(148,148,148)" filter="url(#b6)"/>
<ellipse cx="224.2" cy="140.4" rx="9.7" ry="25.1" fill="rgb(184,184,184)" filter="url(#b5)"/>
<path d="M224.2 120.3C226.5 119.8 229.0 126.0 230.1 129.4C231.3 132.8 231.4 135.2 231.0 140.6C230.7 146.0 229.1 157.7 227.9 161.6C226.8 165.6 225.5 164.7 224.2 164.4C223.0 164.2 221.8 165.6 220.6 160.2C219.3 154.9 216.3 138.9 216.9 132.2C217.5 125.5 222.0 120.8 224.2 120.3Z" fill="rgb(219,219,219)" filter="url(#b3)"/>
<path d="M224.6 125.3C225.9 124.9 227.4 129.8 228.1 132.5C228.8 135.2 228.8 137.1 228.6 141.3C228.4 145.6 227.4 154.8 226.8 157.9C226.1 161.1 225.3 160.3 224.6 160.1C223.8 160.0 223.1 161.1 222.3 156.8C221.6 152.6 219.8 140.0 220.1 134.7C220.5 129.5 223.2 125.7 224.6 125.3Z" fill="rgb(252,252,252)" filter="url(#b3)"/>
<rect x="250.7" y="40.5" width="75.6" height="274.2" fill="rgb(43,43,43)"/>
</g>
<path d="M62.7 73.1h0M62.7 102.8h0M62.7 132.5h0M62.7 162.2h0M62.7 191.9h0M62.7 221.5h0M62.7 251.2h0M62.7 280.9h0M62.7 310.6h0M95.1 73.1h0M95.1 102.8h0M95.1 132.5h0M95.1 162.2h0M95.1 191.9h0M95.1 221.5h0M95.1 251.2h0M95.1 280.9h0M95.1 310.6h0M114.4 73.1h0M114.4 102.8h0M114.4 132.5h0M114.4 162.2h0M114.4 191.9h0M114.4 221.5h0M114.4 251.2h0M114.4 280.9h0M114.4 310.6h0M132.5 73.1h0M132.5 102.8h0M132.5 132.5h0M132.5 162.2h0M132.5 191.9h0M132.5 221.5h0M132.5 251.2h0M132.5 280.9h0M132.5 310.6h0M150.6 73.1h0M150.6 102.8h0M150.6 132.5h0M150.6 162.2h0M150.6 191.9h0M150.6 221.5h0M150.6 251.2h0M150.6 280.9h0M150.6 310.6h0M169.9 73.1h0M169.9 102.8h0M169.9 132.5h0M169.9 162.2h0M169.9 191.9h0M169.9 221.5h0M169.9 251.2h0M169.9 280.9h0M169.9 310.6h0M188.1 73.1h0M188.1 102.8h0M188.1 132.5h0M188.1 162.2h0M188.1 191.9h0M188.1 221.5h0M188.1 251.2h0M188.1 280.9h0M188.1 310.6h0M206.4 73.1h0M206.4 102.8h0M206.4 132.5h0M206.4 162.2h0M206.4 191.9h0M206.4 221.5h0M206.4 251.2h0M206.4 280.9h0M206.4 310.6h0M224.6 73.1h0M224.6 102.8h0M224.6 132.5h0M224.6 162.2h0M224.6 191.9h0M224.6 221.5h0M224.6 251.2h0M224.6 280.9h0M224.6 310.6h0M233.8 73.1h0M233.8 102.8h0M233.8 132.5h0M233.8 162.2h0M233.8 191.9h0M233.8 221.5h0M233.8 251.2h0M233.8 280.9h0M233.8 310.6h0M242.9 73.1h0M242.9 102.8h0M242.9 132.5h0M242.9 162.2h0M242.9 191.9h0M242.9 221.5h0M242.9 251.2h0M242.9 280.9h0M242.9 310.6h0M252.1 73.1h0M252.1 102.8h0M252.1 132.5h0M252.1 162.2h0M252.1 191.9h0M252.1 221.5h0M252.1 251.2h0M252.1 280.9h0M252.1 310.6h0" stroke="#1a1205" stroke-opacity=".9" stroke-width="1.45" stroke-linecap="round" fill="none"/>
<path d="M249.5 42.5V310.7" stroke="rgba(20,20,10,.92)" stroke-width="1.0" stroke-dasharray="8.2 4.2 2 4.2" stroke-dashoffset="-1" fill="none"/>
<path d="M224.2 88.1L230.1 93.2L239.0 106.5L245.6 121.2L247.8 136.0L247.1 153.7L243.4 171.4L225.7 183.2L218.3 180.2L208.0 172.9L199.2 159.6L192.5 133.0L199.2 115.3L208.0 103.5L216.9 93.2Z" fill="none" stroke="#111" stroke-width=".85"/>
<path d="M224.2 119.0L230.1 128.6L231.0 140.4L227.9 162.5L224.2 165.5L220.6 161.1L216.9 131.6Z" fill="none" stroke="#111" stroke-width=".85"/>
<ellipse cx="224.2" cy="141.2" rx="37.6" ry="33.2" fill="none" stroke="#4aa08a" stroke-width=".8"/>
<path d="M205.8 141.2H241.9M224.2 122.7V158.1" stroke="#35b070" stroke-width=".8" fill="none"/>
<path d="M230.3 102.4L243.4 89.3L256.5 102.4L243.4 115.5ZM230.3 102.4H256.5M243.4 89.3V115.5" fill="none" stroke="#111" stroke-width=".85"/>
</g>
<path d="M54.6 42.5H323.3V311.3H54.6Z" fill="none" stroke="#3a3a3a" stroke-width="1"/>
<path d="M66.75 42.5v-5M66.75 311.3v5M85.03 42.5v-5M85.03 311.3v5M103.30 42.5v-10.5M103.30 311.3v10.5M121.57 42.5v-5M121.57 311.3v5M139.85 42.5v-5M139.85 311.3v5M158.12 42.5v-5M158.12 311.3v5M176.40 42.5v-10.5M176.40 311.3v10.5M194.67 42.5v-5M194.67 311.3v5M212.95 42.5v-5M212.95 311.3v5M231.22 42.5v-5M231.22 311.3v5M249.50 42.5v-10.5M249.50 311.3v10.5M267.78 42.5v-5M267.78 311.3v5M286.05 42.5v-5M286.05 311.3v5M304.33 42.5v-5M304.33 311.3v5M322.60 42.5v-10.5M322.60 311.3v10.5M54.6 307.32h-10.5M323.3 307.32h10.5M54.6 300.72h-5M323.3 300.72h5M54.6 294.12h-5M323.3 294.12h5M54.6 287.53h-5M323.3 287.53h5M54.6 280.93h-5M323.3 280.93h5M54.6 274.33h-5M323.3 274.33h5M54.6 267.73h-5M323.3 267.73h5M54.6 261.13h-5M323.3 261.13h5M54.6 254.54h-5M323.3 254.54h5M54.6 247.94h-5M323.3 247.94h5M54.6 241.34h-10.5M323.3 241.34h10.5M54.6 234.74h-5M323.3 234.74h5M54.6 228.14h-5M323.3 228.14h5M54.6 221.55h-5M323.3 221.55h5M54.6 214.95h-5M323.3 214.95h5M54.6 208.35h-5M323.3 208.35h5M54.6 201.75h-5M323.3 201.75h5M54.6 195.15h-5M323.3 195.15h5M54.6 188.56h-5M323.3 188.56h5M54.6 181.96h-5M323.3 181.96h5M54.6 175.36h-10.5M323.3 175.36h10.5M54.6 168.76h-5M323.3 168.76h5M54.6 162.16h-5M323.3 162.16h5M54.6 155.57h-5M323.3 155.57h5M54.6 148.97h-5M323.3 148.97h5M54.6 142.37h-5M323.3 142.37h5M54.6 135.77h-5M323.3 135.77h5M54.6 129.17h-5M323.3 129.17h5M54.6 122.58h-5M323.3 122.58h5M54.6 115.98h-5M323.3 115.98h5M54.6 109.38h-10.5M323.3 109.38h10.5M54.6 102.78h-5M323.3 102.78h5M54.6 96.18h-5M323.3 96.18h5M54.6 89.59h-5M323.3 89.59h5M54.6 82.99h-5M323.3 82.99h5M54.6 76.39h-5M323.3 76.39h5M54.6 69.79h-5M323.3 69.79h5M54.6 63.19h-5M323.3 63.19h5M54.6 56.60h-5M323.3 56.60h5M54.6 50.00h-5M323.3 50.00h5M54.6 43.40h-10.5M323.3 43.40h10.5" fill="none" stroke="#3a3a3a" stroke-width="1"/>
<text x="103.3" y="343.9" text-anchor="middle" class="tl">0.96</text>
<text x="176.4" y="343.9" text-anchor="middle" class="tl">0.98</text>
<text x="249.5" y="343.9" text-anchor="middle" class="tl">1.00</text>
<text x="322.6" y="343.9" text-anchor="middle" class="tl">1.02</text>
<text x="39.6" y="311.9" text-anchor="end" class="tl">50</text>
<text x="39.6" y="247.1" text-anchor="end" class="tl">60</text>
<text x="39.6" y="181.2" text-anchor="end" class="tl">70</text>
<text x="39.6" y="115.2" text-anchor="end" class="tl">80</text>
<text x="39.6" y="53.1" text-anchor="end" class="tl">90</text>
<text x="189.0" y="12.2" text-anchor="middle" class="tt">medium <tspan class="it" dx="2.8">l</tspan><tspan dx="3.4"> (MDI</tspan><tspan> 2001)</tspan></text>
<text y="361.9" class="al"><tspan x="151.5" style="font-size:12.4px">radius</tspan><tspan x="190.4">[</tspan><tspan x="194.2" class="mo">r/R</tspan><tspan x="222.8">]</tspan></text>
<text transform="translate(12 213.6) rotate(-90)" class="al"><tspan class="yl">latitude,</tspan><tspan class="ph" dx="4.8">&#981;</tspan><tspan dx="4.2">[</tspan><tspan class="dg" dx="1.2" dy="-6.6">o</tspan><tspan dx="1.3" dy="6.6">]</tspan></text>
</svg></div>
<div class="p" style="left:350px;top:383px"><svg width="335" height="363" viewBox="0 0 335 363">
<g clip-path="url(#cpb)"><g filter="url(#cm)">
<rect x="52.6" y="40.5" width="272.7" height="274.2" fill="rgb(15,15,15)"/>
<ellipse cx="224.8" cy="133.7" rx="13.9" ry="26.1" fill="rgb(8,8,8)" filter="url(#b14)"/>
<ellipse cx="224.8" cy="133.7" rx="8.4" ry="18.3" fill="rgb(0,0,0)" filter="url(#b10)"/>
<ellipse cx="242.3" cy="138.9" rx="5.2" ry="15.7" fill="rgb(31,31,31)" filter="url(#b6)"/>
<ellipse cx="240.5" cy="102.6" rx="13.2" ry="30.5" fill="rgb(43,43,43)" filter="url(#b5)"/>
<ellipse cx="241.9" cy="102.6" rx="8.7" ry="23.5" fill="rgb(76,76,76)" filter="url(#b4)"/>
<ellipse cx="242.6" cy="102.6" rx="6.3" ry="17.4" fill="rgb(122,122,122)" filter="url(#b3)"/>
<ellipse cx="242.8" cy="102.6" rx="4.4" ry="12.9" fill="rgb(158,158,158)" filter="url(#b3)"/>
<ellipse cx="242.8" cy="102.6" rx="2.6" ry="8.7" fill="rgb(252,252,252)" filter="url(#b2)"/>
<rect x="251.3" y="40.5" width="75.0" height="274.2" fill="rgb(15,15,15)"/>
</g>
<path d="M62.7 73.1h0M62.7 102.8h0M62.7 132.5h0M62.7 162.2h0M62.7 191.9h0M62.7 221.5h0M62.7 251.2h0M62.7 280.9h0M62.7 310.6h0M95.1 73.1h0M95.1 102.8h0M95.1 132.5h0M95.1 162.2h0M95.1 191.9h0M95.1 221.5h0M95.1 251.2h0M95.1 280.9h0M95.1 310.6h0M114.4 73.1h0M114.4 102.8h0M114.4 132.5h0M114.4 162.2h0M114.4 191.9h0M114.4 221.5h0M114.4 251.2h0M114.4 280.9h0M114.4 310.6h0M132.5 73.1h0M132.5 102.8h0M132.5 132.5h0M132.5 162.2h0M132.5 191.9h0M132.5 221.5h0M132.5 251.2h0M132.5 280.9h0M132.5 310.6h0M150.6 73.1h0M150.6 102.8h0M150.6 132.5h0M150.6 162.2h0M150.6 191.9h0M150.6 221.5h0M150.6 251.2h0M150.6 280.9h0M150.6 310.6h0M169.9 73.1h0M169.9 102.8h0M169.9 132.5h0M169.9 162.2h0M169.9 191.9h0M169.9 221.5h0M169.9 251.2h0M169.9 280.9h0M169.9 310.6h0M188.1 73.1h0M188.1 102.8h0M188.1 132.5h0M188.1 162.2h0M188.1 191.9h0M188.1 221.5h0M188.1 251.2h0M188.1 280.9h0M188.1 310.6h0M206.4 73.1h0M206.4 102.8h0M206.4 132.5h0M206.4 162.2h0M206.4 191.9h0M206.4 221.5h0M206.4 251.2h0M206.4 280.9h0M206.4 310.6h0M224.6 73.1h0M224.6 102.8h0M224.6 132.5h0M224.6 162.2h0M224.6 191.9h0M224.6 221.5h0M224.6 251.2h0M224.6 280.9h0M224.6 310.6h0M233.8 73.1h0M233.8 102.8h0M233.8 132.5h0M233.8 162.2h0M233.8 191.9h0M233.8 221.5h0M233.8 251.2h0M233.8 280.9h0M233.8 310.6h0M242.9 73.1h0M242.9 102.8h0M242.9 132.5h0M242.9 162.2h0M242.9 191.9h0M242.9 221.5h0M242.9 251.2h0M242.9 280.9h0M242.9 310.6h0M252.1 73.1h0M252.1 102.8h0M252.1 132.5h0M252.1 162.2h0M252.1 191.9h0M252.1 221.5h0M252.1 251.2h0M252.1 280.9h0M252.1 310.6h0" stroke="#1a1205" stroke-opacity=".9" stroke-width="1.45" stroke-linecap="round" fill="none"/>
<path d="M250.1 42.5V310.7" stroke="rgba(90,90,90,.85)" stroke-width="1.7" stroke-dasharray="8.2 4.2 2 4.2" stroke-dashoffset="-1" fill="none"/>
<path d="M243.1 77.8Q256.1 90.6 251.9 102.6Q256.1 114.6 243.1 127.4Q230.1 114.6 233.5 102.6Q230.1 90.6 243.1 77.8Z" fill="none" stroke="#111" stroke-width=".85"/>
<ellipse cx="242.8" cy="102.6" rx="2.8" ry="7.3" fill="none" stroke="#111" stroke-width=".85"/>
<path d="M229.7 102.6L243.1 89.2L256.5 102.6L243.1 116.0ZM229.7 102.6H256.5M243.1 89.2V116.0" fill="none" stroke="#111" stroke-width=".85"/>
<path d="M224.8 104.0H260.6" stroke="#35b070" stroke-width=".8" fill="none"/>
<path d="M242.8 86.6V121.5" stroke="#4aa08a" stroke-width=".8" fill="none"/>
<path d="M224.8 105.8C221.9 106.1 218.9 111.6 216.1 116.2C213.4 120.9 209.0 126.4 208.3 133.7C207.6 140.9 209.0 153.1 211.8 159.8C214.5 166.5 221.1 172.9 224.8 173.7C228.6 174.6 232.0 171.7 234.4 165.0C236.9 158.3 239.8 142.1 239.7 133.7C239.5 125.2 236.0 119.1 233.6 114.5C231.1 109.8 227.7 105.5 224.8 105.8Z" fill="none" stroke="#e0352b" stroke-width=".9" stroke-dasharray="6 3 1.5 3"/>
</g>
<path d="M54.6 42.5H323.3V311.3H54.6Z" fill="none" stroke="#3a3a3a" stroke-width="1"/>
<path d="M66.75 42.5v-5M66.75 311.3v5M85.03 42.5v-5M85.03 311.3v5M103.30 42.5v-10.5M103.30 311.3v10.5M121.57 42.5v-5M121.57 311.3v5M139.85 42.5v-5M139.85 311.3v5M158.12 42.5v-5M158.12 311.3v5M176.40 42.5v-10.5M176.40 311.3v10.5M194.67 42.5v-5M194.67 311.3v5M212.95 42.5v-5M212.95 311.3v5M231.22 42.5v-5M231.22 311.3v5M249.50 42.5v-10.5M249.50 311.3v10.5M267.78 42.5v-5M267.78 311.3v5M286.05 42.5v-5M286.05 311.3v5M304.33 42.5v-5M304.33 311.3v5M322.60 42.5v-10.5M322.60 311.3v10.5M54.6 307.32h-10.5M323.3 307.32h10.5M54.6 300.72h-5M323.3 300.72h5M54.6 294.12h-5M323.3 294.12h5M54.6 287.53h-5M323.3 287.53h5M54.6 280.93h-5M323.3 280.93h5M54.6 274.33h-5M323.3 274.33h5M54.6 267.73h-5M323.3 267.73h5M54.6 261.13h-5M323.3 261.13h5M54.6 254.54h-5M323.3 254.54h5M54.6 247.94h-5M323.3 247.94h5M54.6 241.34h-10.5M323.3 241.34h10.5M54.6 234.74h-5M323.3 234.74h5M54.6 228.14h-5M323.3 228.14h5M54.6 221.55h-5M323.3 221.55h5M54.6 214.95h-5M323.3 214.95h5M54.6 208.35h-5M323.3 208.35h5M54.6 201.75h-5M323.3 201.75h5M54.6 195.15h-5M323.3 195.15h5M54.6 188.56h-5M323.3 188.56h5M54.6 181.96h-5M323.3 181.96h5M54.6 175.36h-10.5M323.3 175.36h10.5M54.6 168.76h-5M323.3 168.76h5M54.6 162.16h-5M323.3 162.16h5M54.6 155.57h-5M323.3 155.57h5M54.6 148.97h-5M323.3 148.97h5M54.6 142.37h-5M323.3 142.37h5M54.6 135.77h-5M323.3 135.77h5M54.6 129.17h-5M323.3 129.17h5M54.6 122.58h-5M323.3 122.58h5M54.6 115.98h-5M323.3 115.98h5M54.6 109.38h-10.5M323.3 109.38h10.5M54.6 102.78h-5M323.3 102.78h5M54.6 96.18h-5M323.3 96.18h5M54.6 89.59h-5M323.3 89.59h5M54.6 82.99h-5M323.3 82.99h5M54.6 76.39h-5M323.3 76.39h5M54.6 69.79h-5M323.3 69.79h5M54.6 63.19h-5M323.3 63.19h5M54.6 56.60h-5M323.3 56.60h5M54.6 50.00h-5M323.3 50.00h5M54.6 43.40h-10.5M323.3 43.40h10.5" fill="none" stroke="#3a3a3a" stroke-width="1"/>
<text x="103.3" y="343.9" text-anchor="middle" class="tl">0.96</text>
<text x="176.4" y="343.9" text-anchor="middle" class="tl">0.98</text>
<text x="249.5" y="343.9" text-anchor="middle" class="tl">1.00</text>
<text x="322.6" y="343.9" text-anchor="middle" class="tl">1.02</text>
<text x="39.6" y="311.9" text-anchor="end" class="tl">50</text>
<text x="39.6" y="247.1" text-anchor="end" class="tl">60</text>
<text x="39.6" y="181.2" text-anchor="end" class="tl">70</text>
<text x="39.6" y="115.2" text-anchor="end" class="tl">80</text>
<text x="39.6" y="53.1" text-anchor="end" class="tl">90</text>
<text x="189.0" y="12.2" text-anchor="middle" class="tt"><tspan style="word-spacing:2px">medium and high </tspan><tspan class="it" dx="0.8">l</tspan><tspan dx="3.4"> (MDI</tspan><tspan> 2001)</tspan></text>
<text y="361.9" class="al"><tspan x="151.5" style="font-size:12.4px">radius</tspan><tspan x="190.4">[</tspan><tspan x="194.2" class="mo">r/R</tspan><tspan x="222.8">]</tspan></text>
<text transform="translate(12 213.6) rotate(-90)" class="al"><tspan class="yl">latitude,</tspan><tspan class="ph" dx="4.8">&#981;</tspan><tspan dx="4.2">[</tspan><tspan class="dg" dx="1.2" dy="-6.6">o</tspan><tspan dx="1.3" dy="6.6">]</tspan></text>
</svg></div>
</body></html>
